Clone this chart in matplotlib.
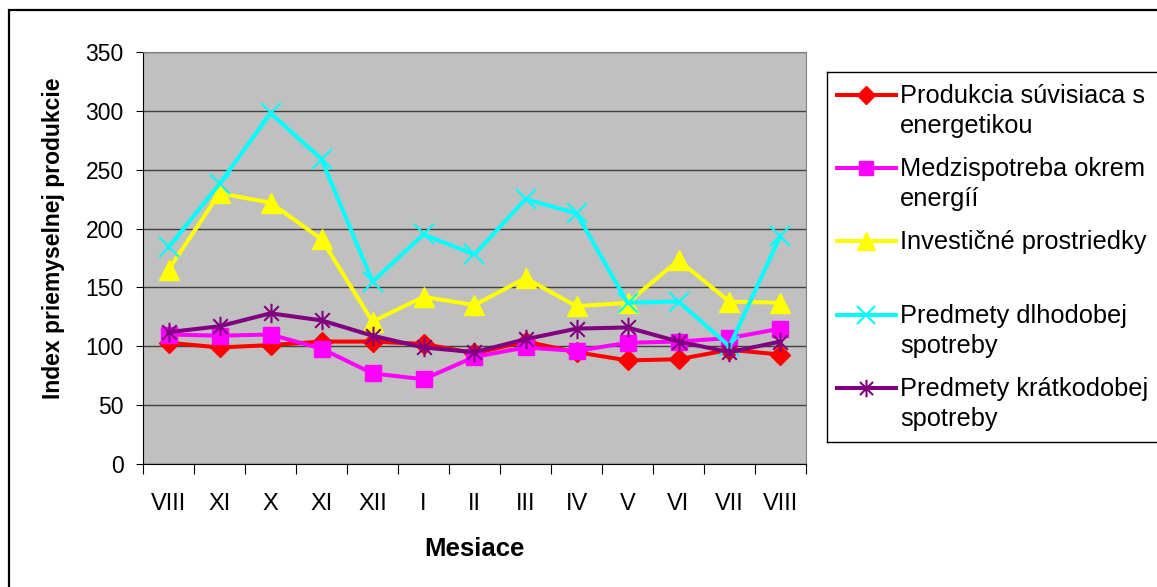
import numpy as np
import matplotlib.pyplot as plt
from matplotlib.path import Path
from matplotlib.patches import Rectangle

plt.rcParams['font.family'] = ['Liberation Sans', 'DejaVu Sans']

# data
months = ['VIII', 'XI', 'X', 'XI', 'XII', 'I', 'II', 'III', 'IV', 'V', 'VI', 'VII', 'VIII']
energ = [103, 99, 101, 104, 104, 102, 94, 104, 95, 88, 89, 97, 93]
medzi = [110, 109, 110, 98, 77, 72, 91, 99, 96, 103, 104, 107, 115]
invest = [165, 230, 222, 191, 121, 142, 135, 158, 134, 137, 173, 138, 137]
dlho = [184, 238, 298, 259, 155, 195, 178, 225, 213, 137, 138, 100, 194]
kratko = [112, 117, 128, 122, 109, 99, 95, 106, 115, 116, 104, 95, 104]

labels = ['Produkcia súvisiaca s\nenergetikou',
          'Medzispotreba okrem\nenergíí',
          'Investičné prostriedky',
          'Predmety dlhodobej\nspotreby',
          'Predmety krátkodobej\nspotreby']

# excel-like asterisk marker: X plus vertical bar
star = Path([(0, -1), (0, 1), (-0.75, -0.75), (0.75, 0.75), (-0.75, 0.75), (0.75, -0.75)],
            [Path.MOVETO, Path.LINETO] * 3)

styles = [
    dict(color='#FF0000', marker='D', ms=10),
    dict(color='#FF00FF', marker='s', ms=11),
    dict(color='#FFFF00', marker='^', ms=14),
    dict(color='#00FFFF', marker='x', ms=14, mew=1.5),
    dict(color='#800080', marker=star, ms=14, mew=1.5),
]
series = [energ, medzi, invest, dlho, kratko]

W, H = 1157, 587
fig = plt.figure(figsize=(W / 100, H / 100), dpi=100)


def px(x0, y0, x1, y1):
    # pixel box (top-left origin) -> figure fraction rect
    return [x0 / W, 1 - y1 / H, (x1 - x0) / W, (y1 - y0) / H]


# outer chart border
fig.patches.append(Rectangle((9 / W, -0.05), 1.1, 1 - 10 / H + 0.05,
                             transform=fig.transFigure, fill=False,
                             edgecolor='black', linewidth=1.6))

ax = fig.add_axes(px(143, 52, 806, 464))
ax.set_facecolor('#C0C0C0')
x = np.arange(len(months))
for vals, st in zip(series, styles):
    ax.plot(x, vals, linewidth=2.9, color=st['color'], marker=st['marker'],
            markersize=st['ms'], markeredgewidth=st.get('mew', 1),
            markerfacecolor=st['color'], markeredgecolor=st['color'])

ax.set_xlim(-0.5, len(months) - 0.5)
ax.set_ylim(0, 350)
ax.set_yticks(np.arange(0, 351, 50))
ax.yaxis.grid(True, color='#404040', linewidth=1)
ax.set_axisbelow(True)
ax.set_xticks(np.arange(-0.5, len(months), 1))
ax.set_xticklabels([])
ax.set_xticks(x, minor=True)
ax.set_xticklabels(months, minor=True)
ax.tick_params(axis='x', which='major', length=7, direction='out', color='black')
ax.tick_params(axis='x', which='minor', length=0, pad=21, labelsize=17)
ax.tick_params(axis='y', length=5, direction='out', pad=9, labelsize=16.5)
for s in ['top', 'right']:
    ax.spines[s].set_color('#808080')
ax.spines['left'].set_color('black')
ax.spines['bottom'].set_color('black')
ax.set_xlabel('Mesiace', fontsize=18.5, fontweight='bold', labelpad=16)
ax.set_ylabel('Index priemyselnej produkcie', fontsize=16.5, fontweight='bold')
ax.yaxis.set_label_coords(-0.118, 0.549)

# legend drawn by hand so handles align with first text line
lx0, ly0, lx1, ly1 = 827, 72, 1180, 442
lax = fig.add_axes(px(lx0, ly0, lx1, ly1))
lax.set_xlim(lx0, lx1)
lax.set_ylim(ly1, ly0)
lax.set_xticks([])
lax.set_yticks([])
for s in lax.spines.values():
    s.set_linewidth(1)
    s.set_color('black')
lax.set_facecolor('white')
rows = [95, 168, 241, 315, 388]
for lab, st, yy in zip(labels, styles, rows):
    lax.plot([837, 896], [yy, yy], color=st['color'], linewidth=2.9)
    lax.plot([866], [yy], color=st['color'], marker=st['marker'],
             markersize=st['ms'] * 0.9, markeredgewidth=st.get('mew', 1))
    lax.text(900, yy - 11, lab, fontsize=18.3, va='top', ha='left', linespacing=1.3)

fig.savefig('out.png', dpi=100)
